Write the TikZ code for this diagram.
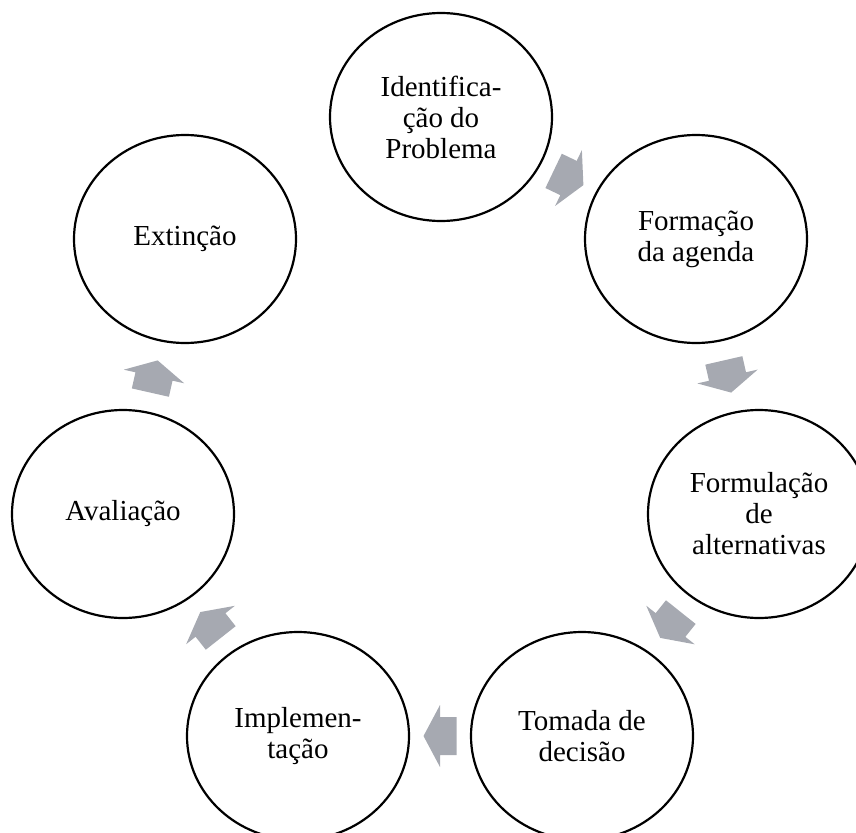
\documentclass[tikz,border=0pt]{standalone}
\usepackage{fontspec}
\setmainfont{Liberation Serif}
\usetikzlibrary{shapes.geometric, calc}
\definecolor{arrowgray}{RGB}{166,169,177}

\begin{document}
\begin{tikzpicture}[x=1pt, y=-1pt,
                stage/.style={
                  ellipse, draw=black, line width=2.2pt, fill=white,
                  minimum width=222pt, minimum height=208pt, inner sep=0pt,
                  align=center, font=\fontsize{29}{31}\selectfont
                },
                cyclearrow/.pic={
                  % block arrow: shaft and head, tip on the +x side
                  \fill[arrowgray] (-16.5,-19) -- (0,-19) -- (0,-31) -- (16.5,0)
                    -- (0,31) -- (0,19) -- (-16.5,19) -- cycle;
                },
              ]
              \clip (0,0) rectangle (856,832);

              \node [stage] at (441,117) (idp) {Identifica-\\ção do\\Problema};
              \node [stage] at (696,239) (fag) {Formação\\da agenda};
              \node [stage] at (759,514) (fal) {Formulação\\de\\alternativas};
              \node [stage] at (582,736) (tdd) {Tomada de\\decisão};
              \node [stage] at (298,736) (imp) {Implemen-\\tação};
              \node [stage] at (123,514) (ava) {Avaliação};
              \node [stage] at (185,239) (ext) {Extinção};

              \foreach \from/\to in {idp/fag, fag/fal, fal/tdd, tdd/imp, imp/ava, ava/ext} {
                \path let \p1 = ($(\to)-(\from)$), \n1 = {atan2(\y1,\x1)} in
                  ($(\from)!0.5!(\to)$) pic [rotate=\n1] {cyclearrow};
              }
            \end{tikzpicture}
\end{document}
